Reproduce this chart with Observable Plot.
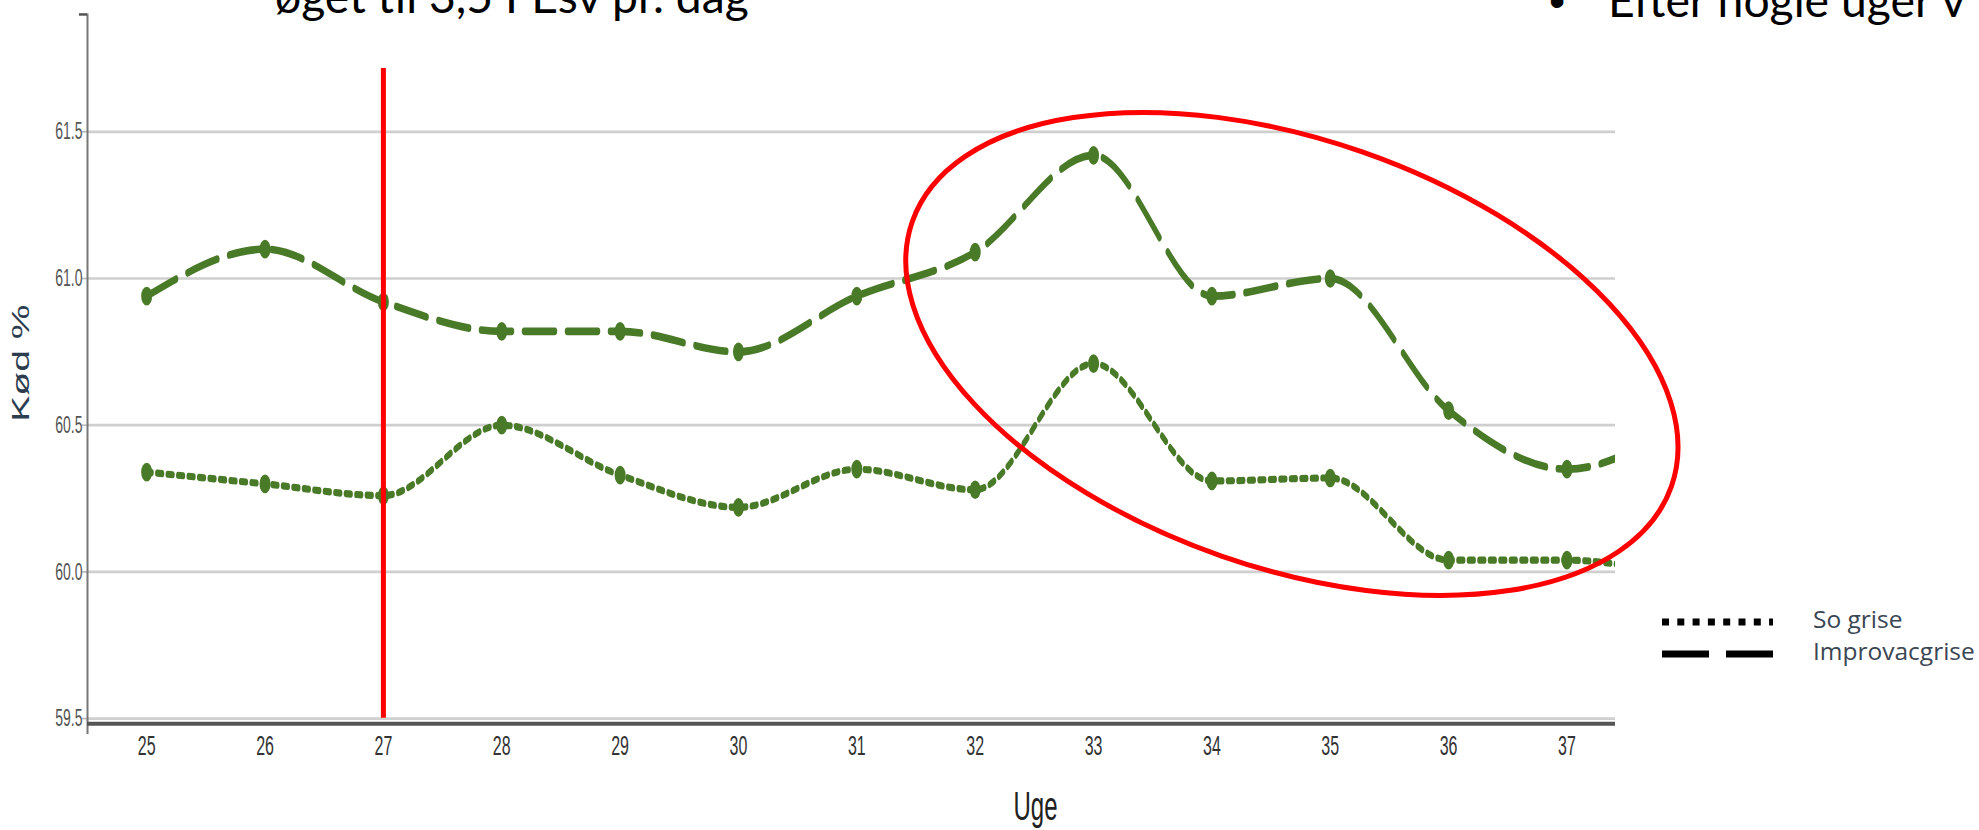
<!DOCTYPE html>
<html>
<head>
<meta charset="utf-8">
<script src="https://cdn.jsdelivr.net/npm/d3@7"></script>
<script src="https://cdn.jsdelivr.net/npm/@observablehq/plot@0.6"></script>
<style>
  html, body { margin: 0; padding: 0; background: #fff; }
  #wrap { position: relative; width: 1979px; height: 830px; overflow: hidden; background: #fff; }
  #wrap > svg { position: absolute; left: 0; top: 0; }
</style>
</head>
<body>
<div id="wrap"></div>
<script>
// ---- data ----
const weeks = [25, 26, 27, 28, 29, 30, 31, 32, 33, 34, 35, 36, 37, 38];
const soGrise = [60.34, 60.30, 60.26, 60.50, 60.33, 60.22, 60.35, 60.28, 60.71, 60.31, 60.32, 60.04, 60.04, 59.98];
const improvacgrise = [60.94, 61.10, 60.92, 60.82, 60.82, 60.75, 60.94, 61.09, 61.42, 60.94, 61.00, 60.55, 60.35, 60.52];
const xTicks = [25, 26, 27, 28, 29, 30, 31, 32, 33, 34, 35, 36, 37];
const yTicks = [59.5, 60.0, 60.5, 61.0, 61.5];
const seriesNames = ["So grise", "Improvacgrise"];
const markerWeek = 27;
const slideTextLeft = "øget til 3,5 FEsv pr. dag";
const slideTextRight = "Efter nogle uger v";

const rowsSo = weeks.map((w, i) => ({week: w, value: soGrise[i]}));
const rowsImp = weeks.map((w, i) => ({week: w, value: improvacgrise[i]}));

const green = "#497a28";
const H0 = 488;
const S = 830 / H0;   // vertical stretch of the chart picture

const chart = Plot.plot({
  width: 1979,
  height: H0,
  marginLeft: 87,
  marginRight: 364,
  marginTop: 8,
  marginBottom: 66,
  x: {domain: [24.5, 37.41]},
  y: {domain: [59.5, 61.9]},
  style: {background: "transparent", fontFamily: "'Liberation Sans', Arial, sans-serif", overflow: "visible"},
  marks: [
    Plot.gridY(yTicks, {stroke: "#cfcfcf", strokeOpacity: 1, strokeWidth: 1.6}),
    Plot.axisY(yTicks, {tickFormat: d => d.toFixed(1), tickSize: 5, tickPadding: 0, fontSize: 14, fill: "#555", stroke: "#bbb", label: null}),
    Plot.axisX(xTicks, {tickFormat: d => String(d), tickSize: 0, tickPadding: 10, fontSize: 16, fill: "#333", label: null}),
    Plot.ruleX([24.5], {y1: 59.445, y2: 61.9, stroke: "#777", strokeWidth: 2}),
    Plot.ruleY([61.9], {x1: 24.432, x2: 24.5, stroke: "#555", strokeWidth: 1.5}),
    Plot.ruleY([59.5], {dy: 3, stroke: "#555", strokeWidth: 2.4}),
    Plot.line(rowsSo, {x: "week", y: "value", curve: "monotone-x", stroke: green, strokeWidth: 4.2, strokeDasharray: "5,5.5", clip: true}),
    Plot.line(rowsImp, {x: "week", y: "value", curve: "monotone-x", stroke: green, strokeWidth: 4.5, strokeDasharray: "31,12", clip: true}),
    Plot.dot(rowsSo, {x: "week", y: "value", r: 5.5, fill: green, stroke: "none", clip: true}),
    Plot.dot(rowsImp, {x: "week", y: "value", r: 5.5, fill: green, stroke: "none", clip: true}),
    Plot.ruleX([markerWeek], {y1: 59.5, y2: 61.715, stroke: "#ff0000", strokeWidth: 5}),
    Plot.text(["Kød %"], {frameAnchor: "left", rotate: -90, dx: -66, dy: -2, fontSize: 23, fill: "#2c3d4f", textAnchor: "middle", lineAnchor: "middle"}),
    Plot.text(["Uge"], {frameAnchor: "bottom", dx: 184, dy: 52, fontSize: 24, fill: "#222", textAnchor: "middle", lineAnchor: "middle"})
  ]
});
chart.style.transform = `scale(1, ${S})`;
chart.style.transformOrigin = "0 0";
const wrap = document.getElementById("wrap");
wrap.appendChild(chart);

// ---- overlay (annotations, legend, slide texts) ----
const xs = chart.scale("x"), ys = chart.scale("y");
const focus = {week: 34.68, value: 60.74, rx: 402, ry: 214, angle: 19.2};
const ov = d3.select(wrap).append("svg")
  .attr("width", 1979).attr("height", 830)
  .style("pointer-events", "none");

const cx = xs.apply(focus.week), cy = ys.apply(focus.value) * S;
ov.append("ellipse")
  .attr("cx", 0).attr("cy", 0).attr("rx", focus.rx).attr("ry", focus.ry)
  .attr("transform", `translate(${cx},${cy}) rotate(${focus.angle})`)
  .attr("fill", "none").attr("stroke", "#ff0000").attr("stroke-width", 5);

// legend
const lg = ov.append("g");
lg.append("line").attr("x1", 1662).attr("x2", 1773).attr("y1", 622).attr("y2", 622)
  .attr("stroke", "#000").attr("stroke-width", 7).attr("stroke-dasharray", "7,8.3");
lg.append("line").attr("x1", 1662).attr("x2", 1773).attr("y1", 654).attr("y2", 654)
  .attr("stroke", "#000").attr("stroke-width", 7).attr("stroke-dasharray", "47,17");
lg.selectAll("text.lg").data(seriesNames).join("text").attr("class", "lg")
  .attr("x", 1813).attr("y", (d, i) => 628 + i * 32)
  .attr("font-family", "'Open Sans', sans-serif").attr("font-size", 24.5)
  .attr("fill", "#3b4654").text(d => d);

// slide texts (cut off at the top, as in the slide)
function fitText(sel, target) {
  const w = sel.node().getComputedTextLength();
  const fs = +sel.attr("font-size");
  sel.attr("font-size", fs * target / w);
}
const t1 = ov.append("text").attr("x", 275).attr("y", 12.7)
  .attr("font-family", "Lato, 'Open Sans', sans-serif").attr("font-size", 50)
  .attr("fill", "#000").text(slideTextLeft);
fitText(t1, 474);
const fsR = +t1.attr("font-size");
ov.append("text").attr("x", 1557).attr("y", 16.7).attr("text-anchor", "middle")
  .attr("font-family", "Arial, sans-serif").attr("font-size", fsR).attr("fill", "#000").text("•");
ov.append("text").attr("x", 1608).attr("y", 16.7)
  .attr("font-family", "Lato, 'Open Sans', sans-serif").attr("font-size", fsR)
  .attr("fill", "#000").text(slideTextRight);
</script>
</body>
</html>
